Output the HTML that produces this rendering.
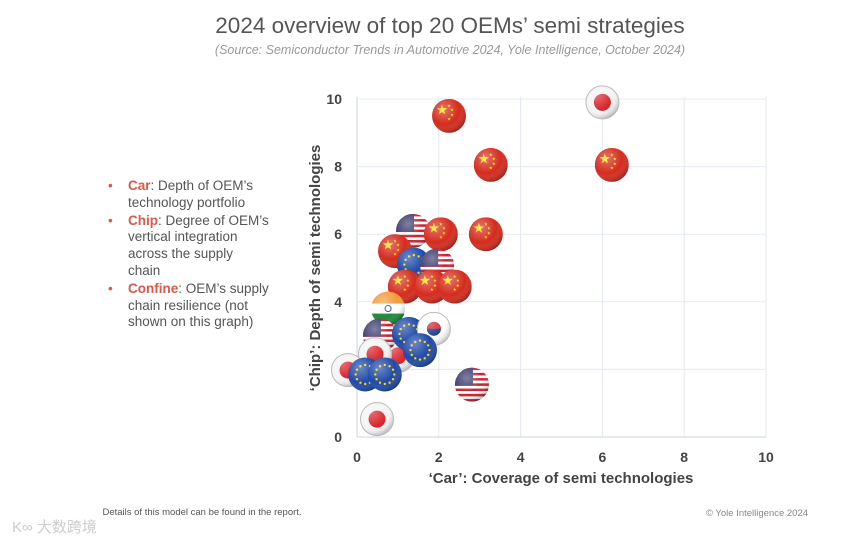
<!DOCTYPE html>
<html><head><meta charset="utf-8">
<style>
body{margin:0;background:#fff;width:863px;height:543px;overflow:hidden;font-family:"Liberation Sans","Noto Sans CJK SC",sans-serif;}
svg{position:absolute;left:0;top:0}
.list{position:absolute;left:108px;top:178px;width:178px;font-size:13.5px;line-height:16.8px;color:#555;}
.list div{position:relative;padding-left:20px;margin-bottom:1px}
.list div:before{content:"•";position:absolute;left:0;color:#d9594c}
.list b{color:#d9594c;font-weight:bold}
</style></head><body>
<svg width="863" height="543">
<defs>
<radialGradient id="shade" cx="35%" cy="30%" r="75%"><stop offset="0" stop-color="#fff" stop-opacity="0.35"/><stop offset="0.6" stop-color="#fff" stop-opacity="0"/><stop offset="1" stop-color="#000" stop-opacity="0.3"/></radialGradient>
</defs>
<text x="450" y="33" text-anchor="middle" font-size="22.5" fill="#555">2024 overview of top 20 OEMs’ semi strategies</text>
<text x="450" y="54" text-anchor="middle" font-size="12.5" font-style="italic" fill="#999">(Source: Semiconductor Trends in Automotive 2024, Yole Intelligence, October 2024)</text>
<g id="grid"></g>
<g id="marks"></g>
<text transform="translate(320,268) rotate(-90)" text-anchor="middle" font-size="15" font-weight="bold" fill="#444">‘Chip’: Depth of semi technologies</text>
<text x="561" y="483" text-anchor="middle" font-size="15" font-weight="bold" fill="#444">‘Car’: Coverage of semi technologies</text>
<text x="202" y="515" text-anchor="middle" font-size="9.5" fill="#555">Details of this model can be found in the report.</text>
<text x="757" y="516" text-anchor="middle" font-size="9.5" fill="#888">© Yole Intelligence 2024</text>
<text x="12" y="532" font-size="15" fill="#ccc">K∞ 大数跨境</text>
</svg>
<div class="list">
<div><b>Car</b>: Depth of OEM’s<br>technology portfolio</div>
<div><b>Chip</b>: Degree of OEM’s<br>vertical integration<br>across the supply<br>chain</div>
<div><b>Confine</b>: OEM’s supply<br>chain resilience (not<br>shown on this graph)</div>
</div>
<script>
const flags=["JP","CN","CN","CN","US","CN","CN","CN","EU","US","CN","CN","CN","IN","JP","US","EU","KR","JP","JP","EU","EU","EU","US","JP"];
const carValues=[6.0,2.25,3.27,6.23,1.37,2.05,3.15,0.93,1.39,1.96,1.17,1.83,2.39,0.76,1.0,0.56,1.27,1.88,0.44,-0.22,1.54,0.2,0.68,2.81,0.49];
const chipValues=[9.9,9.5,8.05,8.05,6.1,6.0,6.0,5.5,5.1,5.07,4.45,4.45,4.45,3.8,2.4,3.0,3.05,3.2,2.45,1.98,2.57,1.85,1.85,1.55,0.53];
const xTicks=[0,2,4,6,8,10];
const yTicks=[0,2,4,6,8,10];
const yTickLabels=["0","","4","6","8","10"];
const NS="http://www.w3.org/2000/svg";
const X=v=>357+v*40.9, Y=v=>437-v*33.8;
function mk(t,a,p){const e=document.createElementNS(NS,t);for(const k in a)e.setAttribute(k,a[k]);p.appendChild(e);return e;}
const grid=document.getElementById('grid'), marks=document.getElementById('marks');
xTicks.forEach(t=>{
 const l=mk('line',{x1:X(t),x2:X(t),y1:Y(10)-2,y2:Y(0),stroke:t===0?'#c8d3ea':'#e3e8f3','stroke-width':1},grid);
 
 
 const tx=mk('text',{x:X(t),y:462,'text-anchor':'middle','font-size':14,'font-weight':'bold',fill:'#444'},grid);tx.textContent=t;
 
 
});
yTicks.forEach((t,i)=>{
 const l=mk('line',{x1:X(0),x2:X(10),y1:Y(t),y2:Y(t),stroke:t===0?'#c8d3ea':'#e3e8f3','stroke-width':1},grid);
 
 
 const tx=mk('text',{x:342,y:Y(t)+5,'text-anchor':'end','font-size':14,'font-weight':'bold',fill:'#444'},grid);tx.textContent=yTickLabels[i];
 
 
});
const R=17;
function star(g,cx,cy,r,c){let p=[];for(let i=0;i<10;i++){const a=-Math.PI/2+i*Math.PI/5,rr=i%2?r*0.4:r;p.push((cx+rr*Math.cos(a)).toFixed(1)+','+(cy+rr*Math.sin(a)).toFixed(1));}mk('polygon',{points:p.join(' '),fill:c},g);}
flags.forEach((f,i)=>{
 const cx=X(carValues[i]),cy=Y(chipValues[i]);
 const g=mk('g',{},marks);
 
 
 const id='c'+i;
 const cp=mk('clipPath',{id:id},g);mk('circle',{cx:cx,cy:cy,r:R},cp);
 const h=mk('g',{'clip-path':'url(#'+id+')'},g);
 if(f==='CN'){mk('rect',{x:cx-R,y:cy-R,width:2*R,height:2*R,fill:'#d52b1e'},h);star(h,cx-7,cy-6,5.5,'#ffde00');[[0,-10],[3,-6],[3,-1],[0,3]].forEach(d=>star(h,cx+d[0],cy+d[1],1.8,'#ffde00'));}
 else if(f==='JP'){mk('rect',{x:cx-R,y:cy-R,width:2*R,height:2*R,fill:'#f4f4f4'},h);mk('circle',{cx:cx,cy:cy,r:8.5,fill:'#d8222a'},h);}
 else if(f==='EU'){mk('rect',{x:cx-R,y:cy-R,width:2*R,height:2*R,fill:'#1f4aa8'},h);for(let k=0;k<12;k++){const a=k*Math.PI/6;mk('circle',{cx:cx+9.5*Math.cos(a),cy:cy+9.5*Math.sin(a),r:1.2,fill:'#ffd200'},h);}}
 else if(f==='US'){for(let k=0;k<13;k++)mk('rect',{x:cx-R,y:cy-R+k*2.62,width:2*R,height:2.62,fill:k%2?'#fff':'#c8202f'},h);mk('rect',{x:cx-R,y:cy-R,width:18,height:18,fill:'#3c3b6e'},h);}
 else if(f==='IN'){mk('rect',{x:cx-R,y:cy-R,width:2*R,height:12,fill:'#f29a3a'},h);mk('rect',{x:cx-R,y:cy-5,width:2*R,height:10,fill:'#fff'},h);mk('rect',{x:cx-R,y:cy+5,width:2*R,height:12,fill:'#1e8a3a'},h);mk('circle',{cx:cx,cy:cy,r:3,fill:'none',stroke:'#1a3b8c'},h);}
 else if(f==='KR'){mk('rect',{x:cx-R,y:cy-R,width:2*R,height:2*R,fill:'#fff'},h);mk('circle',{cx:cx,cy:cy,r:7,fill:'#1f3f8f'},h);mk('path',{d:`M${cx-7},${cy} A7,7 0 0 1 ${cx+7},${cy} Z`,fill:'#cd2e3a'},h);}
 mk('circle',{cx:cx,cy:cy,r:R,fill:'url(#shade)'},h);
 if(f==='JP'||f==='KR')mk('circle',{cx:cx,cy:cy,r:R-0.5,fill:'none',stroke:'#bbb','stroke-width':1},g);
});
</script>
</body></html>
